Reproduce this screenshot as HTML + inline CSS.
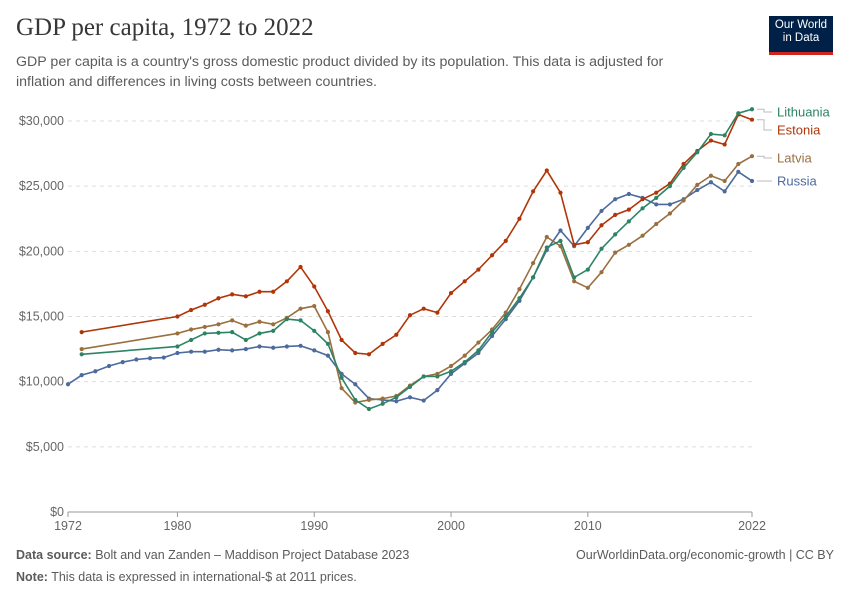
<!DOCTYPE html>
<html><head><meta charset="utf-8">
<style>
body{margin:0;background:#fff;font-family:"Liberation Sans",sans-serif;}
#wrap{position:relative;width:850px;height:600px;overflow:hidden;}
.t{position:absolute;white-space:nowrap;}
</style></head>
<body>
<div id="wrap">
<div class="t" style="left:16px;top:14px;font-family:'Liberation Serif',serif;font-size:25px;color:#373737;">GDP per capita, 1972 to 2022</div>
<div class="t" style="left:16px;top:52px;font-size:14.2px;line-height:20px;color:#5b5b5b;white-space:normal;width:690px;">GDP per capita is a country's gross domestic product divided by its population. This data is adjusted for inflation and differences in living costs between countries.</div>
<div style="position:absolute;left:769px;top:16px;width:64px;background:#002147;border-bottom:3px solid #ce261e;color:#fff;font-size:11.5px;line-height:13px;text-align:center;padding-top:3px;height:33px;">Our World<br>in Data</div>
<svg id="chart" width="850" height="600" style="position:absolute;left:0;top:0;"></svg>
<div class="t" style="left:16px;top:548px;font-size:12.5px;color:#5b5b5b;"><b>Data source:</b> Bolt and van Zanden – Maddison Project Database 2023</div>
<div class="t" style="right:16px;top:548px;font-size:12.5px;color:#5b5b5b;">OurWorldinData.org/economic-growth | CC BY</div>
<div class="t" style="left:16px;top:570px;font-size:12.5px;color:#5b5b5b;"><b>Note:</b> This data is expressed in international-$ at 2011 prices.</div>
</div>
<script>
const yTicks=[0,5000,10000,15000,20000,25000,30000];
const yTickLabels=["$0","$5,000","$10,000","$15,000","$20,000","$25,000","$30,000"];
const xTicks=[1972,1980,1990,2000,2010,2022];
const russiaYears=[1972,1973,1974,1975,1976,1977,1978,1979,1980,1981,1982,1983,1984,1985,1986,1987,1988,1989,1990,1991,1992,1993,1994,1995,1996,1997,1998,1999,2000,2001,2002,2003,2004,2005,2006,2007,2008,2009,2010,2011,2012,2013,2014,2015,2016,2017,2018,2019,2020,2021,2022];
const russia=[9800,10500,10800,11200,11500,11700,11800,11850,12200,12300,12300,12450,12400,12500,12700,12600,12700,12750,12400,12000,10600,9800,8700,8600,8500,8800,8550,9350,10600,11400,12200,13500,14800,16200,18000,20100,21600,20400,21800,23100,24000,24400,24100,23600,23600,24000,24700,25300,24600,26100,25400];
const baltYears=[1973,1980,1981,1982,1983,1984,1985,1986,1987,1988,1989,1990,1991,1992,1993,1994,1995,1996,1997,1998,1999,2000,2001,2002,2003,2004,2005,2006,2007,2008,2009,2010,2011,2012,2013,2014,2015,2016,2017,2018,2019,2020,2021,2022];
const estonia=[13800,15000,15500,15900,16400,16700,16550,16900,16900,17700,18800,17300,15400,13200,12200,12100,12900,13600,15100,15600,15300,16800,17700,18600,19700,20800,22500,24600,26200,24500,20500,20700,22000,22800,23200,24000,24500,25200,26700,27700,28500,28200,30500,30100];
const latvia=[12500,13700,14000,14200,14400,14700,14300,14600,14400,14900,15600,15800,13800,9500,8400,8600,8700,8900,9700,10400,10600,11200,12000,13000,14000,15300,17100,19100,21100,20400,17700,17200,18400,19900,20500,21200,22100,22900,23900,25100,25800,25400,26700,27300];
const lithuania=[12100,12700,13200,13700,13750,13800,13200,13700,13900,14800,14700,13900,12900,10300,8600,7900,8300,8800,9600,10400,10400,10800,11500,12400,13800,15000,16400,18000,20300,20800,18000,18600,20200,21300,22300,23300,24100,25000,26400,27600,29000,28900,30600,30900];

const NS="http://www.w3.org/2000/svg";
const svg=document.getElementById('chart');
const x0=68,x1=752,y0=512,y1=121;
const xs=v=>x0+(v-1972)/(2022-1972)*(x1-x0);
const ys=v=>y0-v/30000*(y0-y1);
function mk(tag,attrs){const e=document.createElementNS(NS,tag);for(const k in attrs)e.setAttribute(k,attrs[k]);svg.appendChild(e);return e;}
yTicks.forEach((t,i)=>{
  const g=mk('line',{x1:x0,x2:x1,y1:ys(t),y2:ys(t),stroke:t===0?'#999':'#ddd','stroke-dasharray':t===0?'':'4,4'});
  
  
  const l=mk('text',{x:x0-4,y:ys(t)+4,'text-anchor':'end','font-size':12.5,fill:'#666','font-family':'Liberation Sans'});
  l.textContent=yTickLabels[i];
  
  
});
xTicks.forEach(t=>{
  const tk=mk('line',{x1:xs(t),x2:xs(t),y1:y0,y2:y0+5,stroke:'#999'});
  
  
  const l=mk('text',{x:xs(t),y:y0+18,'text-anchor':'middle','font-size':12.5,fill:'#666','font-family':'Liberation Sans'});
  l.textContent=t;
  
  
});
const series=[
 {name:'russia',label:'Russia',years:russiaYears,vals:russia,color:'#4c6a9c',ly:181},
 {name:'latvia',label:'Latvia',years:baltYears,vals:latvia,color:'#9a6f3f',ly:158},
 {name:'estonia',label:'Estonia',years:baltYears,vals:estonia,color:'#b13507',ly:130},
 {name:'lithuania',label:'Lithuania',years:baltYears,vals:lithuania,color:'#2c8465',ly:112}
];
series.forEach(s=>{
  const pts=s.years.map((y,i)=>xs(y)+','+ys(s.vals[i])).join(' ');
  const pl=mk('polyline',{points:pts,fill:'none',stroke:s.color,'stroke-width':1.6});
  
  
  s.years.forEach((y,i)=>{
    const c=mk('circle',{cx:xs(y),cy:ys(s.vals[i]),r:2.1,fill:s.color});
    
    
  });
  const lastY=ys(s.vals[s.vals.length-1]);
  const cn=mk('polyline',{points:`${x1+5},${lastY} ${x1+12},${lastY} ${x1+12},${s.ly} ${x1+20},${s.ly}`,fill:'none',stroke:'#bbb','stroke-width':1});
  
  
  const t=mk('text',{x:x1+25,y:s.ly+4.5,'font-size':13,fill:s.color,'font-family':'Liberation Sans'});
  t.textContent=s.label;
  
  
});
</script>
</body></html>
